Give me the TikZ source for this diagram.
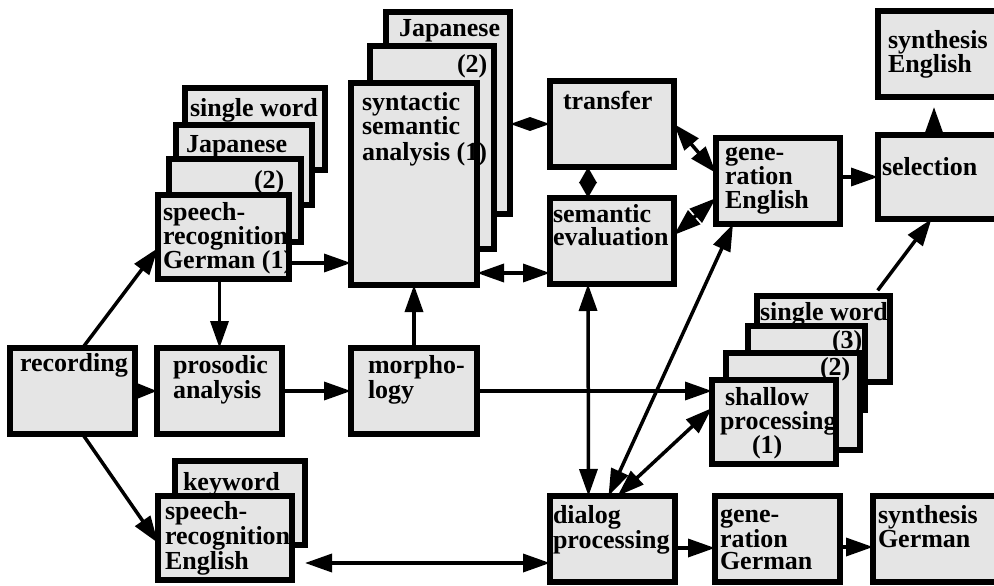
\documentclass[tikz,border=0pt]{standalone}
\usepackage{fontspec}
\setmainfont{Liberation Serif}
\usetikzlibrary{arrows.meta}
\definecolor{boxgray}{RGB}{229,229,229}
\newcommand\lblfont[1]{\fontsize{26}{#1}\selectfont\bfseries}
\begin{document}
\begin{tikzpicture}[x=1pt,y=-1pt,
  box/.style={draw=black, fill=boxgray, line width=6pt, line join=miter,
    inner sep=0pt, outer sep=0pt, anchor=north west},
  lbl/.style={inner sep=0pt, outer sep=0pt, anchor=base west, align=left, font=\lblfont{#1}},
  lbl/.default=23,
  arr/.style={line width=3.5pt, -{Triangle[length=27pt,width=18pt]}},
  sarr/.style={line width=3.5pt, -{Triangle[length=19pt,width=14pt]}},
  darr/.style={line width=3.5pt, {Triangle[length=27pt,width=18pt]}-{Triangle[length=27pt,width=18pt]}},
  mdarr/.style={line width=3.5pt, {Triangle[length=16pt,width=17pt]}-{Triangle[length=16pt,width=17pt]}},
  tdarr/.style={line width=3pt, {Triangle[length=20pt,width=13pt]}-{Triangle[length=20pt,width=13pt]}}]
\useasboundingbox (0,0) rectangle (994,586);

% speech recognition German stack
\node[box, minimum width=140pt, minimum height=82pt] (gsw) at (185,88) {};
\node[lbl] (gsw-t) at (190,117) {single word};
\node[box, minimum width=136pt, minimum height=80pt] (gjp) at (176,125) {};
\node[lbl] (gjp-t) at (186,152) {Japanese};
\node[box, minimum width=132pt, minimum height=83pt] (g2) at (169,159) {};
\node[lbl] (g2-t) at (254,188) {(2)};
\node[box, minimum width=131pt, minimum height=84pt] (srg) at (158,195) {};
\node[lbl=24] (srg-t) at (163,268) {speech-\\recognition\\German (1)};

% syntactic semantic analysis stack
\node[box, minimum width=124pt, minimum height=202pt] (sjp) at (386,12) {};
\node[lbl] (sjp-t) at (399,37) {Japanese};
\node[box, minimum width=124pt, minimum height=203pt] (s2) at (370,46) {};
\node[lbl] (s2-t) at (457,73) {(2)};
\node[box, minimum width=126pt, minimum height=202pt] (syn) at (351,83) {};
\node[lbl=25] (syn-t) at (362,160) {syntactic\\semantic\\analysis (1)};

% transfer, semantic evaluation
\node[box, minimum width=124pt, minimum height=86pt] (transfer) at (550,81) {};
\node[lbl] (transfer-t) at (563,110) {transfer};
\node[box, minimum width=124pt, minimum height=86pt] (semeval) at (550,198) {};
\node[lbl] (semeval-t) at (553,245) {semantic\\evaluation};

% generation English, selection, synthesis English
\node[box, minimum width=124pt, minimum height=86pt] (genE) at (716,138) {};
\node[lbl=24] (genE-t) at (725,208) {gene-\\ration\\English};
\node[box, minimum width=119pt, minimum height=86pt] (synE) at (878,11) {};
\node[lbl=20] (synE-t) at (888,73) {synthesis\\English};
\node[box, minimum width=119pt, minimum height=84pt] (selection) at (878,135) {};
\node[lbl] (selection-t) at (882,175) {selection};

% shallow processing stack
\node[box, minimum width=133pt, minimum height=86pt] (ssw) at (757,296) {};
\node[lbl] (ssw-t) at (760,320) {single word};
\node[box, minimum width=117pt, minimum height=84pt] (s3) at (748,326) {};
\node[lbl] (s3-t) at (832,348) {(3)};
\node[box, minimum width=134pt, minimum height=97pt] (sh2) at (726,353) {};
\node[lbl] (sh2-t) at (820,375) {(2)};
\node[box, minimum width=124pt, minimum height=84pt] (shal) at (712,380) {};
\node[lbl=24] (shal-t) at (720,453) {\hspace*{5pt}shallow\\processing\\\hspace*{32pt}(1)};

% bottom row right
\node[box, minimum width=125pt, minimum height=86pt] (genG) at (715,496) {};
\node[lbl=22] (genG-t) at (720,569) {gene-\\ration\\German};
\node[box, minimum width=124pt, minimum height=86pt] (synG) at (873,496) {};
\node[lbl=22] (synG-t) at (878,547) {synthesis\\German};

% middle row
\node[box, minimum width=125pt, minimum height=86pt] (rec) at (10,348) {};
\node[lbl] (rec-t) at (20,371) {recording};
\node[box, minimum width=125pt, minimum height=86pt] (pros) at (157,348) {};
\node[lbl=21] (pros-t) at (173,398) {prosodic\\analysis};
\node[box, minimum width=126pt, minimum height=86pt] (morph) at (351,348) {};
\node[lbl=21] (morph-t) at (368,398) {morpho-\\logy};

% speech recognition English stack
\node[box, minimum width=130pt, minimum height=84pt] (kw) at (175,461) {};
\node[lbl] (kw-t) at (183,490) {keyword};
\node[box, minimum width=134pt, minimum height=84pt] (sre) at (158,496) {};
\node[lbl=22] (sre-t) at (165,569) {speech-\\recognition\\English};

% dialog processing
\node[box, minimum width=125pt, minimum height=86pt] (dialog) at (550,496) {};
\node[lbl=21] (dialog-t) at (553,548) {dialog\\processing};

% connectors
\draw[arr] ([xshift=10pt]rec.north) -- ([yshift=-11pt]srg.west);
\draw[arr] ([xshift=10pt]rec.south) -- ([yshift=-5pt]sre.west);
\draw[sarr] (rec.east) -- (pros.west);
\draw[arr] (pros.north |- srg.south) -- (pros.north);
\draw[arr] ([yshift=-26pt]srg.east) -- ([yshift=-26pt]srg.east -| syn.west);
\draw[arr] (pros.east) -- (morph.west);
\draw[arr] (morph.north) -- (syn.south);
\draw[tdarr] (transfer.west -| sjp.east) -- (transfer.west);
\draw[darr] ([yshift=-32pt]semeval.west -| syn.east) -- ([yshift=-32pt]semeval.west);
\draw[mdarr] ([xshift=-24pt]transfer.south) -- ([xshift=-24pt]semeval.north);
\draw[darr] (transfer.east) -- ([yshift=8pt]genE.west);
\draw[darr] ([yshift=6pt]semeval.east) -- ([yshift=-17pt]genE.west);
\draw[darr] ([xshift=-24pt]semeval.south) -- ([xshift=-24pt]dialog.north);
\draw[darr] ([xshift=-4pt]dialog.north) -- ([xshift=-45pt]genE.south);
\draw[darr] ([xshift=5pt]dialog.north) -- ([yshift=14pt]shal.west);
\draw[arr] (morph.east) -- (morph.east -| shal.west);
\draw[arr, shorten <=7pt] ([xshift=50pt]ssw.north) -- ([xshift=-6pt]selection.south);
\draw[arr, shorten >=10pt] ([xshift=-3.5pt]selection.north) -- ([xshift=-3.5pt]synE.south);
\draw[arr] (selection.west -| genE.east) -- (selection.west);
\draw[darr] ([yshift=-24pt]dialog.west -| kw.east) -- ([yshift=-24pt]dialog.west);
\draw[arr] ([yshift=-9pt]dialog.east) -- ([yshift=-9pt]genG.west);
\draw[arr] ([yshift=-8pt]genG.east) -- ([yshift=-8pt]synG.west);
\end{tikzpicture}
\end{document}
